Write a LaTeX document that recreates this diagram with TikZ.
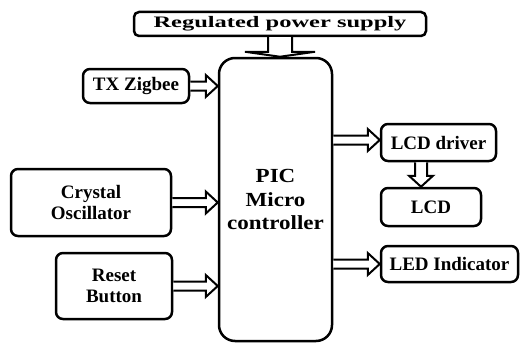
\documentclass[tikz,border=0pt]{standalone}
\usepackage{fontspec}
\setmainfont{Liberation Serif}
\usetikzlibrary{calc}

\begin{document}
\begin{tikzpicture}[x=1pt,y=-1pt]

% Colori
\definecolor{lineBlack}{HTML}{000000}

% Stili dei blocchi e delle frecce (freccia vuota a doppia linea)
\tikzset{
  mezzo/.store in=\fmezzo, ala/.store in=\fala, punta/.store in=\fpunta,
  mezzo=4.5pt, ala=11pt, punta=12pt,
  blocco/.style={draw=lineBlack, line width=2.5pt, rounded corners=7pt,
    align=center, inner sep=0pt, font=\bfseries\fontsize{19}{21}\selectfont},
  freccia/.style={draw=lineBlack, line width=2pt, fill=white, to path={
    let \p1=(\tikztostart), \p2=(\tikztotarget),
        \n1={veclen(\x2-\x1,\y2-\y1)}, \n2={atan2(\y2-\y1,\x2-\x1)} in
    ($(\p1)+(\n2+90:\fmezzo)$)
    -- ($(\p1)+(\n2:{\n1-\fpunta})+(\n2+90:\fmezzo)$)
    -- ($(\p1)+(\n2:{\n1-\fpunta})+(\n2+90:\fala)$)
    -- (\p2)
    -- ($(\p1)+(\n2:{\n1-\fpunta})+(\n2-90:\fala)$)
    -- ($(\p1)+(\n2:{\n1-\fpunta})+(\n2-90:\fmezzo)$)
    -- ($(\p1)+(\n2-90:\fmezzo)$)}},
}

\useasboundingbox (0,0) rectangle (521,345);

% Alimentazione
\node[blocco, minimum width=292pt, minimum height=24pt, rounded corners=5pt,
  font=\bfseries\fontsize{16}{18}\selectfont] (alim) at (280,24)
  {\scalebox{1.53}[1]{Regulated power supply}};

% Microcontrollore
\node[blocco, minimum width=113pt, minimum height=283pt, rounded corners=16pt,
  font=\bfseries\fontsize{20}{23.5}\selectfont] (mcu) at (275.5,199.5)
  {\scalebox{1.15}[1]{PIC}\\\scalebox{1.15}[1]{Micro}\\\scalebox{1.15}[1]{controller}};

% Ingressi (sinistra)
\node[blocco, minimum width=106pt, minimum height=34pt] (zigbee) at (136,86) {TX Zigbee};
\node[blocco, minimum width=160pt, minimum height=67pt] (quarzo) at (91,202.5) {Crystal\\Oscillator};
\node[blocco, minimum width=116pt, minimum height=66pt] (reset) at (114,286) {Reset\\Button};

% Uscite (destra)
\node[blocco, minimum width=115pt, minimum height=37pt] (driver) at (438.5,142.5) {LCD driver};
\node[blocco, minimum width=100pt, minimum height=38pt] (lcd) at (431,207) {LCD};
\node[blocco, minimum width=137pt, minimum height=36pt] (led) at (449.5,264) {LED Indicator};

% Frecce
\draw[freccia, mezzo=12pt, ala=35pt, punta=5pt]
  (alim.south) to (alim.south |- mcu.north);
\draw[freccia] (zigbee.east) to (zigbee.east -| mcu.west);
\draw[freccia] (quarzo.east) to (quarzo.east -| mcu.west);
\draw[freccia] (reset.east) to (reset.east -| mcu.west);
\draw[freccia] (mcu.east |- 0,140) to (driver.west |- 0,140);
\draw[freccia] (led.west -| mcu.east) to (led.west);
\draw[freccia, mezzo=6pt, ala=12pt, punta=11pt]
  ([xshift=-17.5pt]driver.south) to ([xshift=-17.5pt]driver.south |- lcd.north);

\end{tikzpicture}
\end{document}
